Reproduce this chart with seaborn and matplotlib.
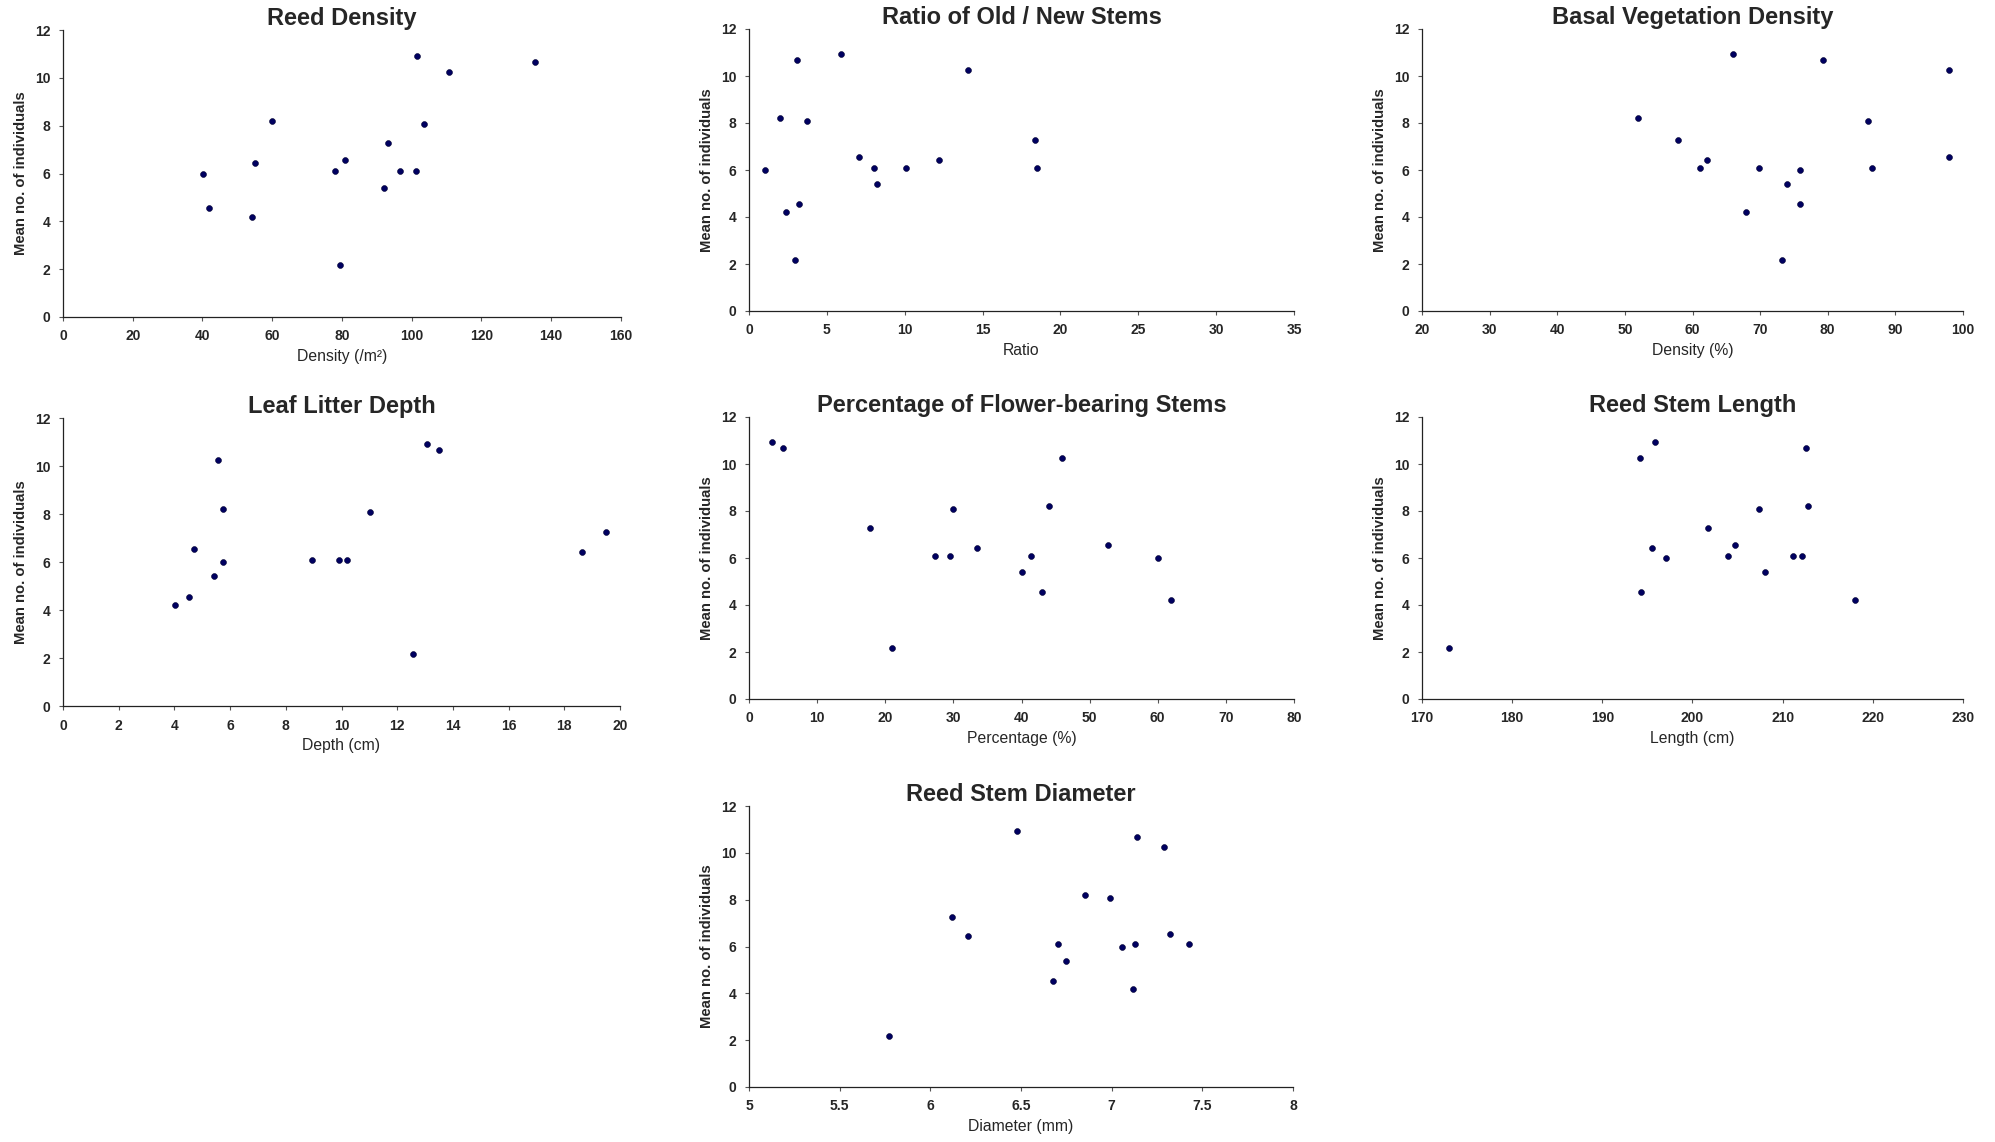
import matplotlib
matplotlib.use('Agg')
import matplotlib.pyplot as plt
import seaborn as sns
import pandas as pd

# ---------------------------------------------------------------------
# data: one mean value per site, same order for every habitat variable
# ---------------------------------------------------------------------
mean_individuals = [2.17, 4.20, 4.54, 5.40, 6.00, 6.09, 6.09, 6.09,
                    6.43, 6.55, 7.26, 8.09, 8.21, 10.24, 10.68, 10.93]

reed_density = [79.4, 54.1, 42.0, 92.1, 40.1, 78.1, 96.7, 101.2,
                55.1, 80.8, 93.1, 103.4, 60.0, 110.8, 135.4, 101.5]
old_new_ratio = [2.97, 2.4, 3.21, 8.21, 1.03, 8.05, 10.07, 18.5,
                 12.2, 7.08, 18.39, 3.7, 2.0, 14.07, 3.08, 5.91]
basal_density = [73.2, 67.9, 75.9, 74.0, 75.9, 61.1, 69.9, 86.6,
                 62.2, 97.9, 57.9, 86.0, 51.9, 97.9, 79.3, 66.0]
litter_depth = [12.56, 4.01, 4.51, 5.42, 5.76, 8.93, 9.91, 10.18,
                18.64, 4.71, 19.49, 11.01, 5.76, 5.57, 13.51, 13.06]
flower_pct = [20.99, 62.0, 43.0, 40.0, 60.0, 27.35, 29.44, 41.36,
              33.4, 52.7, 17.7, 30.0, 44.0, 46.0, 5.06, 3.33]
stem_length = [172.96, 217.97, 194.26, 208.07, 197.04, 203.97, 211.13, 212.13,
               195.5, 204.75, 201.74, 207.35, 212.86, 194.17, 212.54, 195.86]
stem_diameter = [5.771, 7.12, 6.676, 6.746, 7.059, 6.704, 7.131, 7.424,
                 6.207, 7.324, 6.117, 6.992, 6.853, 7.287, 7.141, 6.477]

titles = ['Reed Density', 'Ratio of Old / New Stems', 'Basal Vegetation Density',
          'Leaf Litter Depth', 'Percentage of Flower-bearing Stems',
          'Reed Stem Length', 'Reed Stem Diameter']
x_labels = ['Density (/m²)', 'Ratio', 'Density (%)', 'Depth (cm)',
            'Percentage (%)', 'Length (cm)', 'Diameter (mm)']
x_ranges = [(0, 160, 20), (0, 35, 5), (20, 100, 10), (0, 20, 2),
            (0, 80, 10), (170, 230, 10), (5, 8, 0.5)]
x_values = [reed_density, old_new_ratio, basal_density, litter_depth,
            flower_pct, stem_length, stem_diameter]

# axes boxes in pixels (left, top, right, bottom)
boxes = [(63, 30, 621, 317), (749, 29, 1294, 311), (1422, 29, 1963, 311),
         (63, 418, 620, 706), (749, 417, 1294, 699), (1422, 417, 1963, 699),
         (749, 806, 1293, 1087)]

W, H = 1995, 1142

sns.set_style('ticks')
plt.rcParams['font.family'] = ['Liberation Sans', 'DejaVu Sans']

fig = plt.figure(figsize=(W / 100, H / 100), dpi=100)

for i in range(len(titles)):
    l, t, r, b = boxes[i]
    ax = fig.add_axes([l / W, 1 - b / H, (r - l) / W, (b - t) / H])
    df = pd.DataFrame({'x': x_values[i], 'y': mean_individuals})
    sns.scatterplot(data=df, x='x', y='y', ax=ax, color='#000060',
                    edgecolor='#000030', linewidth=0.4, s=18, zorder=3)

    lo, hi, step = x_ranges[i]
    ax.set_xlim(lo, hi)
    ax.set_ylim(0, 12)
    n = int(round((hi - lo) / step))
    xt = [lo + k * step for k in range(n + 1)]
    ax.set_xticks(xt)
    ax.set_xticklabels([('%g' % v) for v in xt])
    ax.set_yticks(range(0, 13, 2))

    for side in ['top', 'right']:
        ax.spines[side].set_visible(False)
    for side in ['left', 'bottom']:
        ax.spines[side].set_color('#222222')
        ax.spines[side].set_linewidth(0.9)
    ax.tick_params(direction='out', length=3, width=0.8, color='#555555',
                   labelsize=10, pad=6)
    for lab in ax.get_xticklabels() + ax.get_yticklabels():
        lab.set_fontweight('bold')

    ax.set_title(titles[i], fontsize=17, fontweight='bold', pad=1)
    ax.set_xlabel(x_labels[i], fontsize=11.3, labelpad=4)
    ax.set_ylabel('Mean no. of individuals', fontsize=10.7, fontweight='bold',
                  labelpad=5)

fig.savefig('out.png', dpi=100)
